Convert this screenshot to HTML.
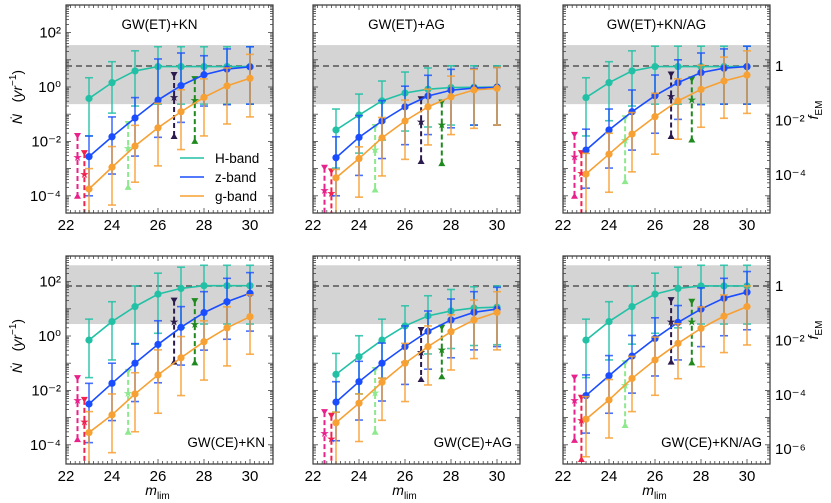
<!DOCTYPE html>
<html><head><meta charset="utf-8"><style>
html,body{margin:0;padding:0;background:#fff;}
svg{display:block;font-family:"Liberation Sans","DejaVu Sans",sans-serif;}
</style></head><body>
<svg id="fig" width="831" height="503" viewBox="0 0 831 503" xmlns="http://www.w3.org/2000/svg"></svg>
<script>
// x categories (limiting magnitude)
const mags = [23,24,25,26,27,28,29,30];
// values are log10(N-dot)
// ---- Top-left GW(ET)+KN
const tlHVal=[-0.42,0.16,0.59,0.75,0.75,0.75,0.75,0.75];
const tlHHi=[0.34,0.93,1.33,1.48,1.48,1.48,1.48,1.48];
const tlHLo=[-1.8,-0.96,-0.7,-0.63,-0.63,-0.63,-0.63,-0.63];
const tlZVal=[-2.56,-1.83,-1.14,-0.48,0.05,0.45,0.66,0.74];
const tlZHi=[-1.8,-1.1,-0.39,1.03,1.25,1.15,1.4,1.48];
const tlZLo=[-4.0,-3.2,-2.54,-1.85,-1.3,-0.7,-0.65,-0.63];
const tlGVal=[-3.75,-2.95,-2.17,-1.5,-0.91,-0.38,0.04,0.32];
const tlGHi=[-3.0,-2.19,-1.41,-0.6,-0.1,0.3,0.7,1.2];
const tlGLo=[-5,-4.34,-3.5,-2.9,-2.3,-1.8,-1.36,-1.1];
const tlEvTop=[-1.8,-2.43,-1.36,0.44,0.29];
const tlEvMid=[-2.57,-3.2,-2.25,-0.36,-0.48];
const tlEvBot=[-4.0,-5,-3.67,-1.8,-1.98];
// ---- Top-middle GW(ET)+AG
const tmHVal=[-1.58,-1.03,-0.51,-0.22,-0.08,-0.02,-0.01,0];
const tmHHi=[-0.81,-0.26,0.22,0.55,0.7,0.78,0.78,0.78];
const tmHLo=[-2.98,-2.43,-1.95,-1.62,-1.47,-1.4,-1.4,-1.4];
const tmZVal=[-2.6,-1.85,-1.25,-0.73,-0.33,-0.12,-0.04,-0.01];
const tmZHi=[-1.83,-1.05,-0.5,0.03,0.43,0.65,0.68,0.72];
const tmZLo=[-4.0,-3.25,-2.63,-2.12,-1.75,-1.5,-1.4,-1.4];
const tmGVal=[-3.34,-2.63,-1.87,-1.25,-0.73,-0.36,-0.11,-0.05];
const tmGHi=[-3.03,-2.2,-1.12,-0.48,-0.08,0.4,0.65,0.72];
const tmGLo=[-5,-4.05,-3.27,-2.66,-2.13,-1.75,-1.52,-1.4];
const tmEvTop=[-2.97,-3.1,-1.47,-0.45,-0.57];
const tmEvMid=[-3.78,-3.9,-2.3,-1.27,-1.37];
const tmEvBot=[-5,-5,-3.77,-2.72,-2.8];
// ---- Top-right GW(ET)+KN/AG
const trHVal=[-0.39,0.16,0.59,0.75,0.75,0.75,0.75,0.75];
const trHHi=[0.34,0.93,1.33,1.5,1.5,1.5,1.5,1.5];
const trHLo=[-1.8,-1.24,-0.7,-0.63,-0.63,-0.63,-0.63,-0.63];
const trZVal=[-2.32,-1.58,-0.91,-0.32,0.16,0.53,0.69,0.75];
const trZHi=[-1.55,-0.81,-0.11,0.44,1.0,1.25,1.4,1.5];
const trZLo=[-3.72,-2.98,-2.32,-1.7,-1.19,-0.65,-0.63,-0.63];
const trGVal=[-3.2,-2.47,-1.73,-1.09,-0.51,-0.09,0.22,0.44];
const trGHi=[-2.44,-1.7,-0.94,-0.23,0.3,0.8,1.1,1.33];
const trGLo=[-5,-3.87,-3.12,-2.47,-1.92,-1.48,-1.15,-0.97];
const trEvTop=[-1.76,-2.43,-1.15,0.46,0.28];
const trEvMid=[-2.55,-3.17,-1.95,-0.33,-0.46];
const trEvBot=[-4.0,-5,-3.46,-1.8,-1.93];
// ---- Bottom-left GW(CE)+KN
const blHVal=[-0.15,0.53,1.08,1.54,1.75,1.85,1.85,1.85];
const blHHi=[0.62,1.26,1.84,2.31,2.53,2.6,2.6,2.6];
const blHLo=[-1.53,-0.88,-0.3,0.1,0.3,0.44,0.44,0.44];
const blZVal=[-2.5,-1.74,-1.0,-0.31,0.32,0.86,1.26,1.57];
const blZHi=[-1.74,-1.0,-0.28,0.56,1.08,1.63,2.12,2.33];
const blZLo=[-3.92,-3.11,-2.41,-1.72,-1.07,-0.52,-0.12,0.18];
const blGVal=[-3.55,-2.9,-2.13,-1.43,-0.8,-0.21,0.3,0.71];
const blGHi=[-2.78,-2.13,-1.35,-0.51,-0.02,0.56,1.07,1.51];
const blGLo=[-5,-4.29,-3.52,-2.84,-2.19,-1.62,-1.1,-0.67];
const blEvTop=[-1.55,-2.35,-1.32,1.3,1.28];
const blEvMid=[-2.35,-3.15,-2.1,0.53,0.45];
const blEvBot=[-3.79,-5,-3.52,-0.94,-0.97];
// ---- Bottom-middle GW(CE)+AG
const bmHVal=[-1.41,-0.76,-0.15,0.37,0.74,0.92,1.03,1.06];
const bmHHi=[-0.64,0.01,0.62,1.11,1.48,1.71,1.81,1.84];
const bmHLo=[-2.8,-2.13,-1.55,-0.96,-0.66,-0.46,-0.35,-0.32];
const bmZVal=[-2.43,-1.68,-1.0,-0.39,0.17,0.59,0.87,0.99];
const bmZHi=[-1.68,-0.93,-0.26,0.37,0.92,1.36,1.63,1.79];
const bmZLo=[-3.85,-3.09,-2.39,-1.78,-1.22,-0.8,-0.51,-0.39];
const bmGVal=[-3.19,-2.47,-1.7,-1.0,-0.39,0.16,0.59,0.87];
const bmGHi=[-2.8,-2.13,-1.55,-0.27,0.37,0.78,1.32,1.63];
const bmGLo=[-5,-3.88,-3.1,-2.41,-1.8,-1.25,-0.83,-0.51];
const bmEvTop=[-2.8,-2.93,-1.25,0.22,0.31];
const bmEvMid=[-3.57,-3.76,-2.08,-0.58,-0.5];
const bmEvBot=[-5,-5,-3.52,-1.58,-1.48];
// ---- Bottom-right GW(CE)+KN/AG
const brHVal=[-0.15,0.53,1.08,1.54,1.75,1.84,1.84,1.84];
const brHHi=[0.62,1.26,1.84,2.31,2.53,2.6,2.6,2.6];
const brHLo=[-1.53,-0.88,-0.3,0.1,0.3,0.44,0.44,0.44];
const brZVal=[-2.19,-1.46,-0.74,-0.09,0.5,0.99,1.39,1.61];
const brZHi=[-1.43,-0.72,0.02,0.67,1.12,1.77,2.12,2.37];
const brZLo=[-3.57,-2.84,-2.1,-1.47,-0.88,-0.39,0.01,0.23];
const brGVal=[-3.06,-2.35,-1.56,-0.88,-0.27,0.28,0.73,1.08];
const brGHi=[-2.23,-1.6,-0.75,-0.04,0.45,1.07,1.51,1.84];
const brGLo=[-4.44,-3.75,-2.78,-2.18,-1.57,-1.13,-0.61,-0.33];
const brEvTop=[-1.53,-2.27,-1.0,1.32,1.26];
const brEvMid=[-2.35,-3.09,-1.8,0.53,0.53];
const brEvBot=[-3.82,-4.52,-3.27,-0.94,-0.97];
// event marker magnitudes
const evMags=[22.5,22.8,24.7,26.7,27.6];
const evColors=['#e8218c','#f2204f','#8ee88e','#2b1b4d','#1e8a1e'];
// band ranges & dashed max (log10)
const topBand=[-0.63,1.54], botBand=[0.44,2.6];
const topMax=0.77, botMax=1.84;
const leftTickLabels=[2,0,-2,-4];
const topFTicks=[0,-2,-4], botFTicks=[0,-2,-4,-6];

const NS='http://www.w3.org/2000/svg';
const svg=document.getElementById('fig');
function mk(tag,attrs,parent){const e=document.createElementNS(NS,tag);for(const k in attrs)e.setAttribute(k,attrs[k]);(parent||svg).appendChild(e);return e;}
const COLS=[66,313,563], ROWS=[5,256], W=207, H=208, PX=23, PY=27.2;
const BASE=[87,336];
const sup={'-':'\u207B','0':'\u2070','1':'\u00B9','2':'\u00B2','3':'\u00B3','4':'\u2074','5':'\u2075','6':'\u2076'};
function pow10(n,one){if(n===0&&one)return '1';return '10'+String(n).split('').map(c=>sup[c]).join('');}

const panels=[
 {r:0,c:0,title:'GW(ET)+KN',d:[tlHVal,tlHHi,tlHLo,tlZVal,tlZHi,tlZLo,tlGVal,tlGHi,tlGLo],ev:[tlEvTop,tlEvMid,tlEvBot],legend:true,name:'et-kn'},
 {r:0,c:1,title:'GW(ET)+AG',d:[tmHVal,tmHHi,tmHLo,tmZVal,tmZHi,tmZLo,tmGVal,tmGHi,tmGLo],ev:[tmEvTop,tmEvMid,tmEvBot],name:'et-ag'},
 {r:0,c:2,title:'GW(ET)+KN/AG',d:[trHVal,trHHi,trHLo,trZVal,trZHi,trZLo,trGVal,trGHi,trGLo],ev:[trEvTop,trEvMid,trEvBot],name:'et-kn-ag'},
 {r:1,c:0,title:'GW(CE)+KN',d:[blHVal,blHHi,blHLo,blZVal,blZHi,blZLo,blGVal,blGHi,blGLo],ev:[blEvTop,blEvMid,blEvBot],name:'ce-kn'},
 {r:1,c:1,title:'GW(CE)+AG',d:[bmHVal,bmHHi,bmHLo,bmZVal,bmZHi,bmZLo,bmGVal,bmGHi,bmGLo],ev:[bmEvTop,bmEvMid,bmEvBot],name:'ce-ag'},
 {r:1,c:2,title:'GW(CE)+KN/AG',d:[brHVal,brHHi,brHLo,brZVal,brZHi,brZLo,brGVal,brGHi,brGLo],ev:[brEvTop,brEvMid,brEvBot],name:'ce-kn-ag'}
];
const colors=['#22c1a6','#1a4dff','#f7a033'];
const errColors=['rgba(34,193,166,0.85)','rgba(26,77,255,0.8)','rgba(247,160,51,0.85)'];
const bandNames=['h-band','z-band','g-band'];

panels.forEach((p,i)=>{
 const x0=COLS[p.c], y0=ROWS[p.r], base=BASE[p.r];
 const xs=m=>x0+(m-22)*PX;
 const ys=l=>base-l*PY;
 const g=mk('g',{});
 
 
 const cid='clip'+i;
 const cp=mk('clipPath',{id:cid},g); mk('rect',{x:x0,y:y0,width:W,height:H},cp);
 const pg=mk('g',{'clip-path':'url(#'+cid+')'},g);
 const band=p.r===0?topBand:botBand, mx=p.r===0?topMax:botMax;
 const b=mk('rect',{x:x0,y:ys(band[1]),width:W,height:ys(band[0])-ys(band[1]),fill:'#d4d4d4'},pg);
 
 
 const dl=mk('line',{x1:x0,x2:x0+W,y1:ys(mx),y2:ys(mx),stroke:'#555','stroke-width':1.5,'stroke-dasharray':'6,4'},pg);
 
 
 evMags.forEach((m,k)=>{
  const x=xs(m), t=ys(p.ev[0][k]), s=ys(p.ev[1][k]), bt=ys(p.ev[2][k]), col=evColors[k];
  const eg=mk('g',{},pg);
  
  
  mk('line',{x1:x,x2:x,y1:t,y2:bt,stroke:col,'stroke-width':2,'stroke-dasharray':'5,3'},eg);
  mk('path',{d:`M${x-3.5},${t-3}L${x+3.5},${t-3}L${x},${t+3}Z`,fill:col},eg);
  mk('path',{d:`M${x-3.5},${bt+3}L${x+3.5},${bt+3}L${x},${bt-3}Z`,fill:col},eg);
  const st=mk('text',{x:x,y:s+4,'font-size':11,'text-anchor':'middle',fill:col},eg); st.textContent='\u2605';
 });
 [0,1,2].forEach(si=>{
  const val=p.d[si*3], hi=p.d[si*3+1], lo=p.d[si*3+2];
  const sg=mk('g',{},pg);
  
  
  mags.forEach((m,k)=>{
   const x=xs(m), a=ys(hi[k]), bb=ys(lo[k]);
   const eb=mk('g',{stroke:errColors[si],'stroke-width':1.6},sg);
   
   
   mk('line',{x1:x,x2:x,y1:a,y2:bb},eb);
   mk('line',{x1:x-4,x2:x+4,y1:a,y2:a},eb);
   mk('line',{x1:x-4,x2:x+4,y1:bb,y2:bb},eb);
  });
  const pts=mags.map((m,k)=>xs(m)+','+ys(val[k])).join(' ');
  const pl=mk('polyline',{points:pts,fill:'none',stroke:colors[si],'stroke-width':1.6},sg);
  
  
  mags.forEach((m,k)=>{
   const c=mk('circle',{cx:xs(m),cy:ys(val[k]),r:3.6,fill:colors[si]},sg);
   
   
  });
 });
 const fr=mk('rect',{x:x0,y:y0,width:W,height:H,fill:'none',stroke:'#333','stroke-width':1.2},g);
 
 
 const tg=mk('g',{stroke:'#444','stroke-width':0.8},g);
 
 
 for(let m=22;m<=31.001;m+=0.2){
  const x=xs(m), major=Math.abs(m-Math.round(m))<0.01 && Math.round(m)%2===0, L=major?5:3;
  mk('line',{x1:x,x2:x,y1:y0+H,y2:y0+H-L},tg);
  mk('line',{x1:x,x2:x,y1:y0,y2:y0+L},tg);
 }
 for(let d=-6;d<=3;d++){
  for(let k=1;k<=9;k++){
   const l=d+Math.log10(k), y=ys(l);
   if(y<y0||y>y0+H)continue;
   const L=k===1?5:3;
   mk('line',{x1:x0,x2:x0+L,y1:y,y2:y},tg);
   mk('line',{x1:x0+W,x2:x0+W-L,y1:y,y2:y},tg);
  }
 }
 [22,24,26,28,30].forEach(m=>{
  const t=mk('text',{x:xs(m),y:y0+H+17,'font-size':15,'text-anchor':'middle',fill:'#000'},g);
  
  
  t.textContent=m;
 });
 if(p.c===0){
  leftTickLabels.forEach(l=>{
   const y=ys(l); if(y<y0||y>y0+H)return;
   const t=mk('text',{x:x0-5,y:y+5,'font-size':15,'text-anchor':'end',fill:'#000'},g);
   
   
   t.textContent=pow10(l,false);
  });
  const yl=mk('text',{x:22,y:base+10,'font-size':14,'text-anchor':'middle',transform:`rotate(-90 22 ${base+10})`,fill:'#000'},g);
  
  
  yl.innerHTML='<tspan font-style="italic">\u1E44</tspan>\u00A0\u00A0\u00A0(<tspan font-style="italic">yr</tspan><tspan font-size="10" dy="-6">\u22121</tspan><tspan dy="6">)</tspan>';
 }
 if(p.c===2){
  (p.r===0?topFTicks:botFTicks).forEach(f=>{
   const y=ys(mx+f);
   const t=mk('text',{x:x0+W+5,y:y+5,'font-size':15,'text-anchor':'start',fill:'#000'},g);
   
   
   t.textContent=pow10(f,true);
  });
  const cy=p.r===0?110:330;
  const fl=mk('text',{x:818,y:cy,'font-size':14,'text-anchor':'middle',transform:`rotate(-90 818 ${cy})`,fill:'#000'},g);
  
  
  fl.innerHTML='<tspan font-style="italic">f</tspan><tspan font-size="10" dy="4">EM</tspan>';
 }
 if(p.r===1){
  const xl=mk('text',{x:x0+W/2-12,y:495,'font-size':14,'text-anchor':'middle',fill:'#000'},g);
  
  
  xl.innerHTML='<tspan font-style="italic">m</tspan><tspan font-size="10" dy="4">lim</tspan>';
 }
 const tt=mk('text',{x:p.r===0?x0+W/2-10:x0+W-8,y:p.r===0?y0+24:y0+H-17,'font-size':13.5,'text-anchor':p.r===0?'middle':'end',fill:'#000'},g);
 
 
 tt.textContent=p.title;
 if(p.legend){
  const lg=mk('g',{},g);
  
  
  ['H-band','z-band','g-band'].forEach((lab,k)=>{
   const y=158+k*19;
   const le=mk('g',{},lg);
   
   
   mk('line',{x1:180,x2:204,y1:y,y2:y,stroke:colors[k],'stroke-width':1.6},le);
   const t=mk('text',{x:215,y:y+5,'font-size':13.5,fill:'#000'},le);
   t.textContent=lab;
  });
 }
});
</script>
</body></html>
